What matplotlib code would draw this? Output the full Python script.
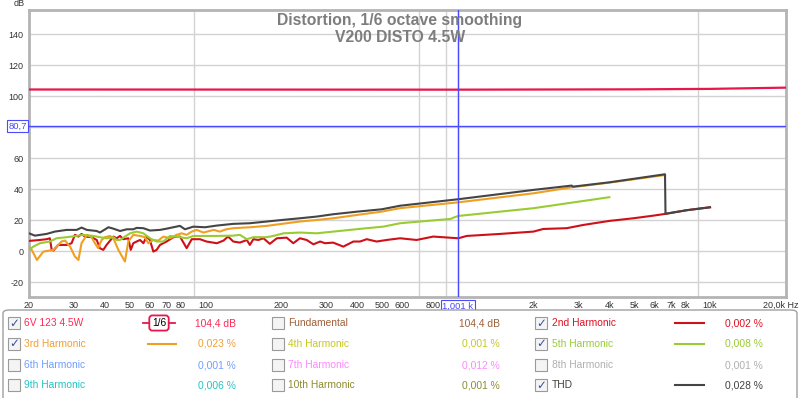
import matplotlib.pyplot as plt
from matplotlib.patches import Rectangle, FancyBboxPatch
from matplotlib.lines import Line2D
import matplotlib.transforms as mtransforms

plt.rcParams['font.family'] = ['Liberation Sans', 'DejaVu Sans']

# ---- data (Hz, dB) ----
fund_f = [20, 1000, 5000, 10000, 20000]
fund_db = [104.5, 104.4, 104.6, 104.9, 105.7]

h2_f = [20, 22.1, 23.5, 24.2, 24.6, 25.0, 26.1, 28.2, 29.5, 30.4, 31.4, 32.3, 33.3, 35.4,
        37.1, 38.2, 39.4, 40.6, 43.2, 44.5, 45.9, 47.3, 49.5, 50.6, 51.8, 53.4, 55.1, 56.8,
        58.5, 60.3, 62.2, 64.1, 66.1, 70.2, 74.7, 79.3, 84.3, 88.3, 95.2, 101, 111, 118,
        123, 129, 137, 146, 150, 155, 162, 170, 180, 192, 210, 223, 237, 252, 268, 285,
        298, 321, 352, 386, 410, 436, 477, 523, 591, 687, 800, 1006, 1086, 1471, 1995,
        2184, 2704, 3147, 3990, 4967, 5959, 6627, 8077, 10000]
h2_db = [6.8, 7.4, 7.9, 8.5, 1.0, 0.6, 4.2, 4.2, 5.3, 10.7, 9.6, 11.3, 9.6, 9.2,
         7.4, 2.1, 1.0, 4.2, 9.6, 8.5, 10.0, 7.9, 8.5, 1.0, 5.3, 6.4, 7.4, 5.3,
         9.6, 7.4, -0.1, 1.0, 4.2, 6.4, 9.2, 9.6, 2.1, 7.9, 7.9, 6.4, 5.3, 7.0,
         9.6, 6.4, 5.7, 7.4, 4.2, 7.9, 7.4, 8.5, 4.9, 8.5, 8.9, 5.3, 8.5, 7.4, 4.6, 6.4,
         5.3, 5.7, 3.1, 6.4, 6.4, 7.9, 6.4, 7.4, 8.5, 7.4, 9.6, 8.5, 10.0, 11.3, 12.8,
         14.5, 15.0, 17.1, 19.7, 21.4, 23.1, 24.2, 26.6, 28.5]

h3_f = [20, 20.5, 21.5, 22.8, 25.0, 26.9, 27.8, 29.1, 30.4, 31.4, 32.3, 33.9, 35.4, 36.5,
        37.6, 38.8, 40.0, 41.9, 43.2, 45.2, 48.0, 49.5, 51.8, 55.1, 57.7, 59.4, 62.2,
        65.1, 68.1, 72.4, 76.9, 80.5, 84.3, 88.3, 92.4, 98.2, 108, 114, 121, 129, 150,
        175, 201, 237, 276, 321, 401, 500, 590, 1006, 1995, 2830, 3990, 6630]
h3_db = [3.1, 1.0, -5.5, -0.1, 1.0, 6.4, 7.0, 3.1, -3.3, -5.5, 5.3, 10.7, 9.2, 5.3,
         2.1, 7.4, 9.2, 10.0, 8.5, 1.0, -6.5, 6.4, 10.7, 10.0, 9.2, 5.3, 7.4,
         7.0, 9.6, 8.5, 10.7, 11.7, 10.7, 12.8, 13.9, 12.2, 13.9, 12.8, 14.3, 15.0, 15.6,
         16.5, 17.8, 19.3, 20.3, 21.4, 23.6, 25.7, 27.9, 31.7, 37.5, 41.4, 44.4, 49.3]

h5_f = [20, 20.8, 22.1, 24.2, 25.7, 28.2, 30.9, 32.8, 36.0, 38.2, 40.6, 43.2, 44.5, 45.9,
        48.0, 50.3, 53.4, 56.8, 60.3, 64.1, 68.1, 72.4, 79.3, 84.3, 89.6, 98.2, 111, 129,
        137, 146, 155, 165, 175, 186, 204, 237, 276, 321, 374, 436, 507, 591, 940, 961,
        1006, 1995, 3990]
h5_db = [1.0, 3.1, 5.3, 6.4, 8.5, 9.2, 10.0, 10.7, 10.0, 9.2, 8.5, 9.2, 7.4, 7.4,
         9.6, 11.7, 12.8, 11.7, 8.5, 6.4, 6.4, 10.0, 9.2, 8.5, 10.0, 10.0, 10.0, 10.2,
         10.7, 7.9, 9.2, 9.2, 9.2, 10.0, 11.7, 12.2, 11.7, 12.8, 13.9, 15.0, 16.0, 18.2, 21.0, 21.8,
         22.9, 27.9, 35.0]

thd_f = [20, 21.1, 23.5, 25.3, 28.2, 30.9, 32.3, 33.9, 37.1, 38.2, 41.3, 43.2, 45.9, 48.8,
         51.8, 53.4, 56.8, 60.3, 66.1, 70.2, 79.3, 83.0, 89.6, 99.7, 111, 129, 150, 175,
         201, 237, 276, 321, 401, 500, 591, 1006, 1995, 2830, 2860, 3990, 6630, 6660,
         8077, 10000]
thd_db = [11.7, 10.2, 11.3, 12.8, 13.9, 13.9, 15.4, 13.9, 13.2, 12.2, 15.6, 14.7, 13.2, 14.3,
          14.3, 15.2, 15.0, 13.5, 13.9, 14.7, 16.5, 14.3, 16.0, 15.6, 16.7, 17.8, 18.2, 19.3,
          20.3, 21.4, 22.5, 24.0, 25.7, 27.2, 29.5, 33.7, 39.7, 42.5, 41.8, 44.6, 49.8, 24.3,
          26.6, 28.5]

cursor_f = 1001
cursor_db = 80.7

xtick_pos = [20, 30, 40, 50, 60, 70, 80, 100, 200, 300, 400, 500, 600, 800,
             2000, 3000, 4000, 5000, 6000, 7000, 8000, 10000, 20000]
xtick_lab = ['20', '30', '40', '50', '60', '70', '80', '100', '200', '300', '400', '500',
             '600', '800', '2k', '3k', '4k', '5k', '6k', '7k', '8k', '10k', '20,0k Hz']
xgrid = ([20, 30, 40, 50, 60, 70, 80, 90, 100, 200, 300, 400, 500, 600, 700, 800, 900,
          1000, 2000, 3000, 4000, 5000, 6000, 7000, 8000, 9000, 10000])
ytick_pos = [-20, 0, 20, 40, 60, 80, 100, 120, 140]
ytick_lab = ['-20', '0', '20', '40', '60', '', '100', '120', '140']

leg_names = [["6V 123 4.5W", "Fundamental", "2nd Harmonic"],
             ["3rd Harmonic", "4th Harmonic", "5th Harmonic"],
             ["6th Harmonic", "7th Harmonic", "8th Harmonic"],
             ["9th Harmonic", "10th Harmonic", "THD"]]
leg_values = [["104,4 dB", "104,4 dB", "0,002 %"],
              ["0,023 %", "0,001 %", "0,008 %"],
              ["0,001 %", "0,012 %", "0,001 %"],
              ["0,006 %", "0,001 %", "0,028 %"]]
leg_colors = [["#ff2a55", "#a0603a", "#dd1122"],
              ["#f0a030", "#c8c820", "#99cc33"],
              ["#6f9fff", "#ff88ff", "#b0b0b0"],
              ["#22c4c4", "#8c8c30", "#404040"]]
leg_checked = [[True, False, True],
               [True, False, True],
               [False, False, False],
               [False, False, True]]

C_FUND = "#e8164a"
C_H2 = "#d01018"
C_H3 = "#f0a020"
C_H5 = "#99cc33"
C_THD = "#454545"
C_CUR = "#4a4aff"

W, H = 800, 398
fig = plt.figure(figsize=(W / 100, H / 100), dpi=100)
ax = fig.add_axes([29 / W, 1 - 297 / H, (786 - 29) / W, (297 - 10) / H])

ax.set_xscale('log')
ax.set_xlim(20, 20000)
ax.set_ylim(-29.4, 155.8)

ax.set_xticks(xtick_pos)
ax.set_xticklabels(xtick_lab)
ax.set_xticks(xgrid, minor=True)
ax.set_xticklabels([], minor=True)
ax.set_yticks(ytick_pos)
ax.set_yticklabels(ytick_lab)
ax.tick_params(which='both', length=0, labelsize=6.5, colors='#333333', pad=3)
ax.tick_params(axis='y', pad=4)
ax.grid(which='minor', axis='x', color='#d2d2d2', lw=1)
ax.grid(which='major', axis='y', color='#d2d2d2', lw=1)
ax.set_axisbelow(True)
for s in ax.spines.values():
    s.set_color('#b4b4b4')
    s.set_linewidth(2)

# last x label ("20,0k Hz") sits flush with the right edge
last = ax.get_xticklabels()[-1]
last.set_horizontalalignment('right')
last.set_transform(last.get_transform() +
                   mtransforms.ScaledTranslation(13 / 100, 0, fig.dpi_scale_trans))

ax.plot(fund_f, fund_db, color=C_FUND, lw=1.6, zorder=3)
ax.plot(h2_f, h2_db, color=C_H2, lw=1.5, zorder=3)
ax.plot(h3_f, h3_db, color=C_H3, lw=1.5, zorder=3)
ax.plot(h5_f, h5_db, color=C_H5, lw=1.5, zorder=3)
ax.plot(thd_f, thd_db, color=C_THD, lw=1.5, zorder=4)

# cursor
ax.axvline(cursor_f, color=C_CUR, lw=1, zorder=5)
ax.axhline(cursor_db, color=C_CUR, lw=1, zorder=5)
box = dict(boxstyle='square,pad=0.15', fc='white', ec=C_CUR, lw=0.8)
ax.text(-0.003, cursor_db, "80,7", transform=ax.get_yaxis_transform(), ha='right', va='center',
        fontsize=6.8, color=C_CUR, bbox=box)
ax.text(cursor_f, -0.016, "1,001 k", transform=ax.get_xaxis_transform(), ha='center', va='top',
        fontsize=6.8, color=C_CUR, bbox=box)

fig.text(25 / W, 1 - 4 / H, "dB", ha='right', va='center', fontsize=6.5, color='#333333')

fig.text(400 / W, 1 - 20 / H, "Distortion, 1/6 octave smoothing", ha='center', va='center',
         fontsize=11.3, fontweight='bold', color='#7d7d7d')
fig.text(400 / W, 1 - 37 / H, "V200 DISTO 4.5W", ha='center', va='center',
         fontsize=11.3, fontweight='bold', color='#7d7d7d')

# ---- legend panel ----
def fx(x):
    return x / W


def fy(y):
    return 1 - y / H


panel = FancyBboxPatch((fx(3), fy(404)), fx(794), 404 / H - 310 / H,
                       boxstyle='round,pad=0,rounding_size=0.008', transform=fig.transFigure,
                       fc='white', ec='#a0a0a0', lw=1)
fig.patches.append(panel)

row_y = [323, 344, 365, 385]
cb_x = [8, 272, 535]
lab_x = [24, 288, 552]
val_x = [236, 500, 763]
line_x = [(148, 176), None, (675, 704)]
line_cols = [[None, None, C_H2], [C_H3, None, C_H5], [None, None, None], [None, None, C_THD]]

for r, yy in enumerate(row_y):
    for c in range(3):
        col = leg_colors[r][c]
        rect = Rectangle((fx(cb_x[c]), fy(yy + 5.5)), 11.5 / W, 11.5 / H, transform=fig.transFigure,
                         fc='#f4f4f4', ec='#9a9a9a', lw=0.8)
        fig.patches.append(rect)
        if leg_checked[r][c]:
            fig.text(fx(cb_x[c] + 5.75), fy(yy), "\u2713", ha='center', va='center',
                     fontsize=8.5, color='#3a4fa0', family='DejaVu Sans', fontweight='bold')
        fig.text(fx(lab_x[c]), fy(yy), leg_names[r][c], ha='left', va='center',
                 fontsize=7.4, color=col)
        fig.text(fx(val_x[c]), fy(yy), leg_values[r][c], ha='right', va='center',
                 fontsize=7.4, color=col)
        lc = line_cols[r][c]
        if lc is not None:
            x0, x1 = line_x[c]
            fig.add_artist(Line2D([fx(x0), fx(x1)], [fy(yy), fy(yy)], color=lc, lw=1.5,
                                  transform=fig.transFigure))

# smoothing indicator on first row
fig.add_artist(Line2D([fx(143), fx(175)], [fy(323), fy(323)], color=C_FUND, lw=1.3,
                      transform=fig.transFigure))
fig.text(fx(159), fy(323), "1/6", ha='center', va='center', fontsize=7.4, color='black',
         bbox=dict(boxstyle='round,pad=0.25,rounding_size=0.3', fc='white', ec=C_FUND, lw=1.3))

fig.savefig('out.png', dpi=100)
